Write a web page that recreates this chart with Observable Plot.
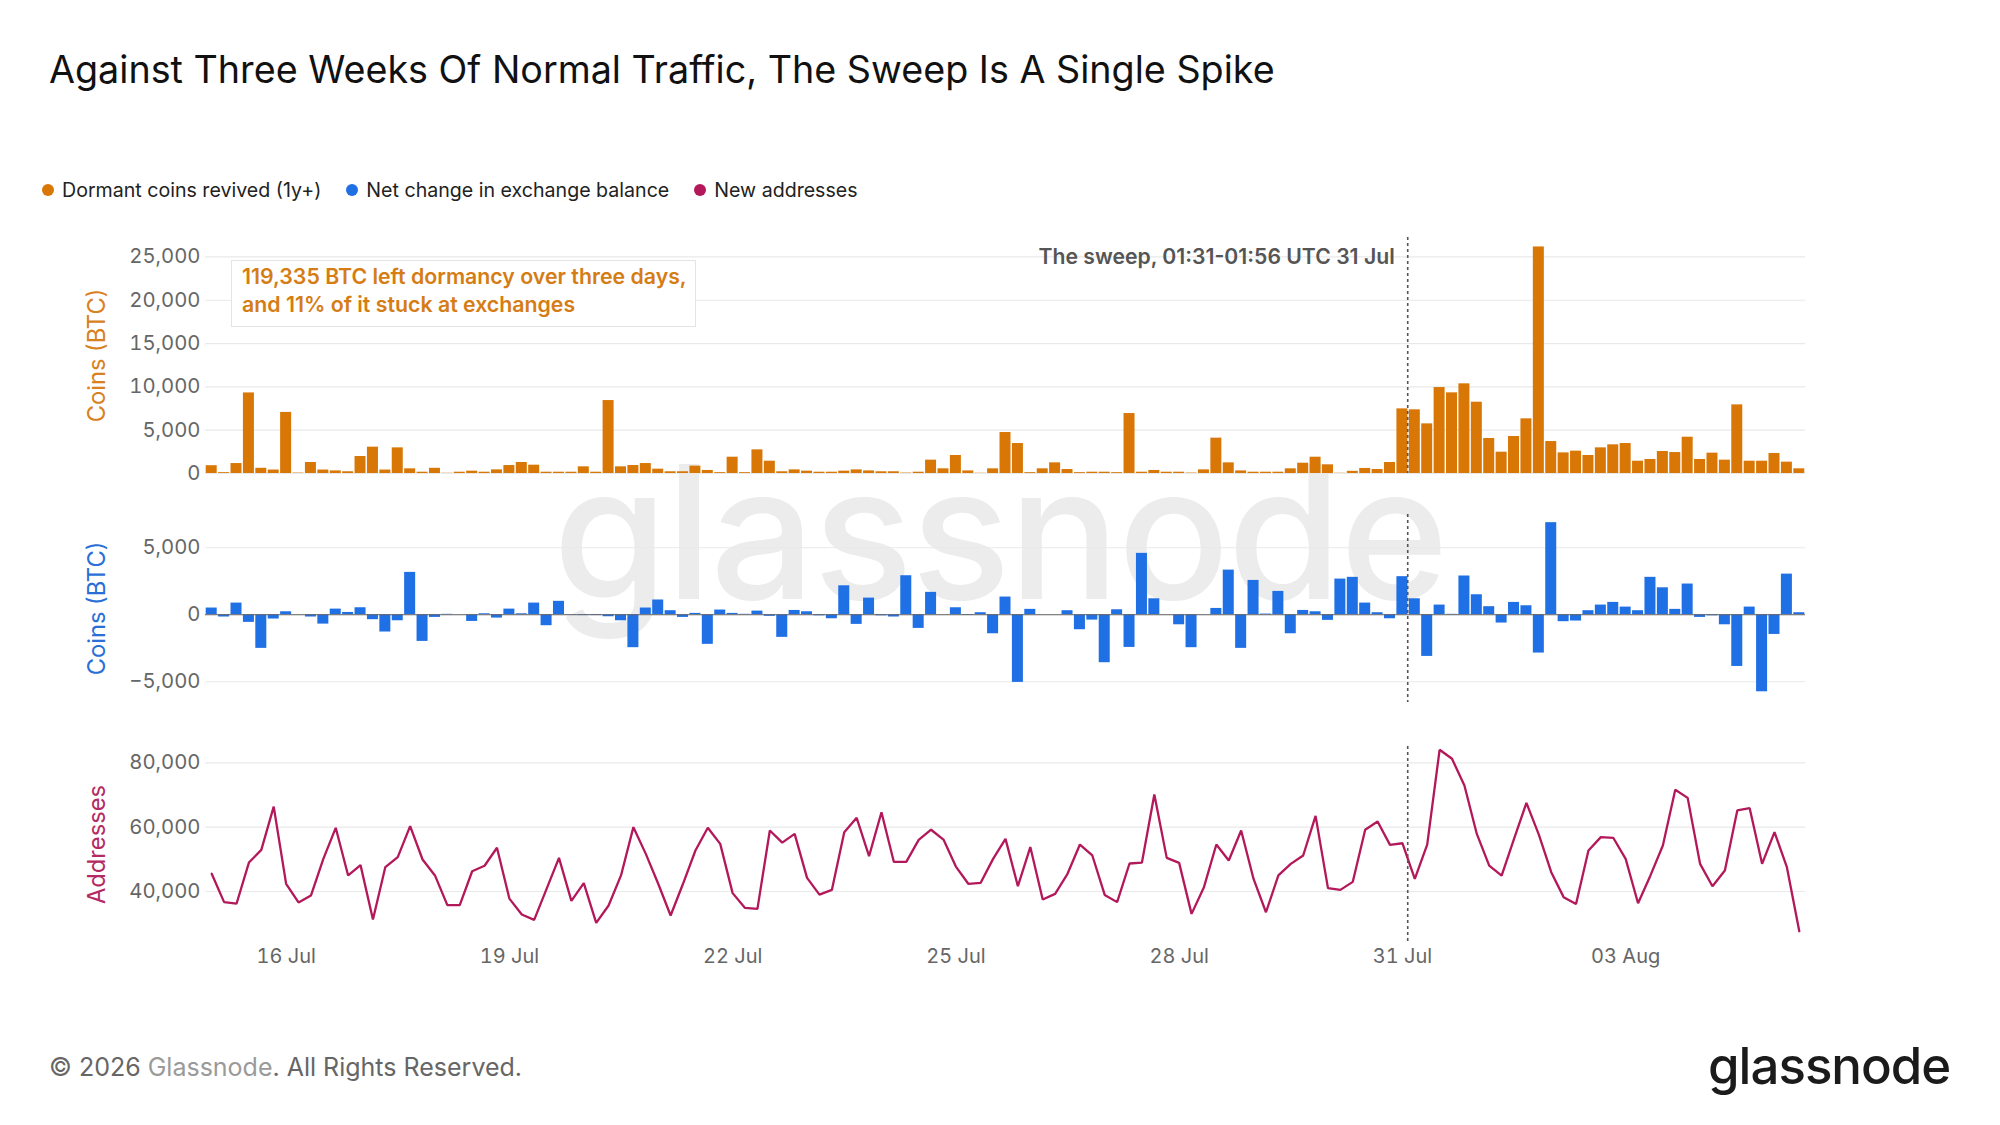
<!DOCTYPE html>
<html>
<head>
<meta charset="utf-8">
<script src="https://cdn.jsdelivr.net/npm/d3@7"></script>
<script src="https://cdn.jsdelivr.net/npm/@observablehq/plot@0.6"></script>
<style>
  html, body { margin: 0; padding: 0; background: #fff; }
  #page { position: relative; width: 2000px; height: 1125px; background: #fff; overflow: hidden; font-family: Inter, "Noto Sans", sans-serif; }
  .abs { position: absolute; white-space: nowrap; }
  #watermark { left: 553px; top: 440px; font-size: 185px; font-weight: 500; color: #ececec; letter-spacing: -2px; line-height: 1; z-index: 0; }
  #title { left: 49px; top: 51px; font-size: 37.7px; color: #111; line-height: 1; z-index: 2; }
  #legend { left: 42px; top: 177px; font-size: 19.6px; color: #222; display: flex; gap: 0; line-height: 26px; z-index: 2; }
  .li { display: flex; align-items: center; margin-right: 25px; }
  .dot { width: 12px; height: 12px; border-radius: 50%; display: inline-block; margin-right: 8px; }
  .panel { position: absolute; left: 0; z-index: 1; }
  #annot { left: 231px; top: 260px; width: 465px; height: 67px; box-sizing: border-box; border: 1px solid #e4e4e4; background: rgba(255,255,255,0.92); color: #d57d14; font-weight: 600; font-size: 21.3px; line-height: 28px; padding: 1px 0 0 10px; z-index: 3; }
  #footer { left: 49px; top: 1055px; font-size: 25px; color: #666; line-height: 1; z-index: 2; }
  #footer span { color: #9a9a9a; }
  #logo { left: 1708px; top: 1040px; font-size: 51px; font-weight: 500; color: #1b1b1b; letter-spacing: -1px; line-height: 1; z-index: 2; }
</style>
</head>
<body>
<div id="page">
  <div id="watermark" class="abs">glassnode</div>
  <div id="title" class="abs">Against Three Weeks Of Normal Traffic, The Sweep Is A Single Spike</div>
  <div id="legend" class="abs"></div>
  <div id="p1" class="panel"></div>
  <div id="p2" class="panel"></div>
  <div id="p3" class="panel"></div>
  <div id="annot" class="abs">119,335 BTC left dormancy over three days,<br>and 11% of it stuck at exchanges</div>
  <div id="footer" class="abs">© 2026 <span>Glassnode</span>. All Rights Reserved.</div>
  <div id="logo" class="abs">glassnode</div>
</div>
<script>
// ---------- data ----------
const seriesNames = ["Dormant coins revived (1y+)", "Net change in exchange balance", "New addresses"];
const seriesColors = ["#d97706", "#1f6fe5", "#b3185a"];
const startTime = Date.UTC(2025, 6, 15, 0, 0);   // first 4-hour bucket
const stepHours = 4;
const sweepTime = new Date(Date.UTC(2025, 6, 31, 1, 43));
const sweepLabel = "The sweep, 01:31-01:56 UTC 31 Jul";

const dormant = [
  900, 100, 1150, 9300, 600, 400, 7050, 50, 1270, 400, 300, 200, 1960, 3040, 400, 2960, 540, 150, 600, 30,
  150, 270, 150, 420, 920, 1270, 960, 150, 150, 150, 770, 150, 8420, 770, 920, 1150, 500, 200, 200, 850,
  350, 100, 1880, 100, 2730, 1420, 200, 420, 270, 150, 150, 270, 420, 300, 200, 200, 50, 150, 1540, 540,
  2080, 300, 30, 540, 4730, 3460, 100, 540, 1230, 460, 100, 150, 150, 100, 6920, 150, 350, 150, 150, 50,
  420, 4080, 1230, 300, 150, 150, 150, 540, 1190, 1880, 1000, 30, 250, 580, 460, 1270, 7460, 7350, 5730, 9920,
  9310, 10350, 8230, 4040, 2460, 4270, 6310, 26150, 3690, 2380, 2580, 2080, 2960, 3310, 3460, 1420, 1620, 2540, 2420, 4190,
  1620, 2350, 1540, 7920, 1420, 1420, 2310, 1310, 540
];
const netExchange = [
  500, -170, 870, -570, -2510, -320, 220, 0, -170, -700, 420, 170, 520, -370, -1290, -450, 3160, -1990, -200, 30,
  0, -500, 70, -250, 420, 70, 870, -820, 1000, -30, -60, -60, -150, -450, -2460, 500, 1100, 300, -200, 100,
  -2210, 350, 100, 30, 270, -120, -1690, 320, 220, -80, -300, 2160, -720, 1240, -80, -170, 2910, -1020, 1670, 0,
  520, -50, 150, -1420, 1320, -5050, 400, 0, 0, 300, -1120, -400, -3580, 370, -2440, 4580, 1190, 0, -750, -2460,
  0, 470, 3330, -2510, 2560, 50, 1740, -1420, 320, 220, -420, 2660, 2790, 870, 150, -300, 2840, 1190, -3110, 720,
  30, 2890, 1490, 600, -620, 920, 670, -2860, 6870, -520, -470, 300, 720, 920, 570, 300, 2790, 2010, 400, 2290,
  -200, -80, -750, -3860, 570, -5750, -1470, 3030, 150
];
const newAddresses = [
  45500, 36700, 36200, 49000, 52950, 66400, 42400, 36600, 38750, 50150, 59800, 45000, 48200, 31300, 47600, 50700, 60300, 49950, 45000, 35750,
  35750, 46300, 48000, 53600, 37800, 32850, 31200, 40800, 50450, 37100, 42600, 30250, 35650, 45000, 60000, 51700, 42400, 32550, 42400, 52750,
  59800, 54800, 39500, 34900, 34600, 58950, 55200, 57900, 44250, 39050, 40500, 58450, 62900, 51000, 64650, 49200, 49200, 56050, 59200, 56150,
  47750, 42400, 42700, 50150, 56350, 41650, 53800, 37500, 39250, 45500, 54600, 51200, 38950, 36700, 48700, 49000, 70150, 50450, 48900, 33050,
  41350, 54600, 49650, 58950, 43900, 33550, 45000, 48600, 51200, 63500, 41050, 40500, 43000, 59200, 61750, 54500, 55000, 43900, 54600, 84050,
  81250, 72950, 57900, 48050, 44950, 56350, 67550, 57700, 46000, 38250, 36150, 52750, 56900, 56700, 50150, 36350, 45000, 54300, 71600, 69100,
  48600, 41650, 46550, 65200, 65900, 48600, 58450, 47550, 27650
];
const yTicksDormant = [0, 5000, 10000, 15000, 20000, 25000];
const yTicksNet = [-5000, 0, 5000];
const yTicksAddr = [40000, 60000, 80000];
const xTickDates = ["2025-07-16", "2025-07-19", "2025-07-22", "2025-07-25", "2025-07-28", "2025-07-31", "2025-08-03"].map(s => new Date(s + "T00:00:00Z"));
const axisTitles = ["Coins (BTC)", "Coins (BTC)", "Addresses"];

// ---------- build ----------
const H = 3600 * 1000;
const rows = dormant.map((v, i) => ({
  date: new Date(startTime + i * stepHours * H),
  dormant: v,
  net: netExchange[i],
  addr: newAddresses[i]
}));
const xDomain = [new Date(startTime - 2 * H), new Date(startTime + (dormant.length - 1) * stepHours * H + 2 * H)];

const legend = document.getElementById("legend");
seriesNames.forEach((n, i) => {
  const el = document.createElement("div");
  el.className = "li";
  el.innerHTML = `<span class="dot" style="background:${seriesColors[i]}"></span>${n}`;
  legend.appendChild(el);
});

const W = 2000, ML = 205, MR = 195;
function panel(id, {frameTop, frameBottom, yDomain, ticks, title, titleColor, marks, xAxis}) {
  const mt = 20, mb = xAxis ? 60 : 20;
  const svg = Plot.plot({
    width: W,
    height: frameBottom - frameTop + mt + mb,
    marginLeft: ML, marginRight: MR, marginTop: mt, marginBottom: mb,
    style: {background: "transparent", fontFamily: "Inter, sans-serif", fontSize: "20px", color: "#666", overflow: "visible"},
    x: {type: "utc", domain: xDomain, axis: null},
    y: {domain: yDomain, axis: null},
    marks: [
      Plot.gridY(ticks, {stroke: "#e9e9e9", strokeOpacity: 1, strokeWidth: 1.2}),
      Plot.axisY(ticks, {tickSize: 0, tickPadding: 5, fill: "#666", fontSize: 20.3, label: null}),
      ...(xAxis ? [Plot.axisX(xTickDates, {tickSize: 0, tickPadding: 6.5, fill: "#666", fontSize: 20, label: null, tickFormat: d3.utcFormat("%d %b")})] : []),
      ...marks,
      Plot.ruleX([sweepTime], {stroke: "#555", strokeWidth: 1.6, strokeDasharray: "3,3"}),
      Plot.text([title], {frameAnchor: "left", textAnchor: "middle", lineAnchor: "middle", dx: -108, rotate: -90, fill: titleColor, fontSize: 23.7, fontFamily: "Inter, sans-serif"})
    ]
  });
  const host = document.getElementById(id);
  host.style.top = (frameTop - mt) + "px";
  host.appendChild(svg);
}

const half = 2 * H;
panel("p1", {
  frameTop: 237.3, frameBottom: 473.3, yDomain: [0, 27240], ticks: yTicksDormant,
  title: axisTitles[0], titleColor: "#d8811e",
  marks: [
    Plot.rectY(rows, {x1: d => new Date(+d.date - half), x2: d => new Date(+d.date + half), y: "dormant", fill: seriesColors[0], insetLeft: 0.7, insetRight: 0.7}),
    Plot.text([sweepLabel], {x: () => sweepTime, y: () => 25000, textAnchor: "end", dx: -13, fill: "#555", fontWeight: 600, fontSize: 21.2, fontFamily: "Inter, sans-serif"})
  ]
});
panel("p2", {
  frameTop: 514, frameBottom: 702, yDomain: [-6550, 7480], ticks: yTicksNet,
  title: axisTitles[1], titleColor: "#2a6fd6",
  marks: [
    Plot.rectY(rows, {x1: d => new Date(+d.date - half), x2: d => new Date(+d.date + half), y: "net", fill: seriesColors[1], insetLeft: 0.7, insetRight: 0.7}),
    Plot.ruleY([0], {stroke: "#666", strokeWidth: 1})
  ]
});
panel("p3", {
  frameTop: 746, frameBottom: 942, yDomain: [24150, 85070], ticks: yTicksAddr,
  title: axisTitles[2], titleColor: "#b42a62", xAxis: true,
  marks: [
    Plot.line(rows, {x: "date", y: "addr", stroke: seriesColors[2], strokeWidth: 2.3, strokeLinejoin: "miter"})
  ]
});
</script>
</body>
</html>
